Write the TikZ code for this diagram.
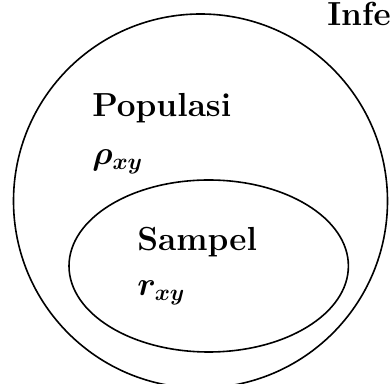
\documentclass[tikz,border=0pt]{standalone}
\usepackage{amsmath,amssymb}
\usepackage{bm}
\usepackage{fontspec}
\usepackage{tikz}

\tikzset{
  lbl/.style={anchor=base west, inner sep=0pt, font=\fontsize{25}{28}\selectfont\bfseries},
  ring/.style={line width=1.2pt}
}

\begin{document}
\begin{tikzpicture}[x=0.75pt,y=-0.75pt]
            \useasboundingbox (0,0) rectangle (390,384);
            \clip (0,0) rectangle (390,384);

            % Populasi
            \draw[ring] (200.5,201) circle[radius=187];
            \node[lbl] (pop) at (92,117) {Populasi};
            \node[lbl] (rho) at (92,165) {$\bm{\rho}_{\bm{xy}}$};

            % Sampel
            \draw[ring] (208.7,266) ellipse[x radius=139.7, y radius=86];
            \node[lbl] (smp) at (137,251) {Sampel};
            \node[lbl] (rxy) at (137,296) {$\bm{r}_{\bm{xy}}$};

            % Inferensi (cut at the edge)
            \node[lbl] (inf) at (327,26) {Infe};
        \end{tikzpicture}
\end{document}
